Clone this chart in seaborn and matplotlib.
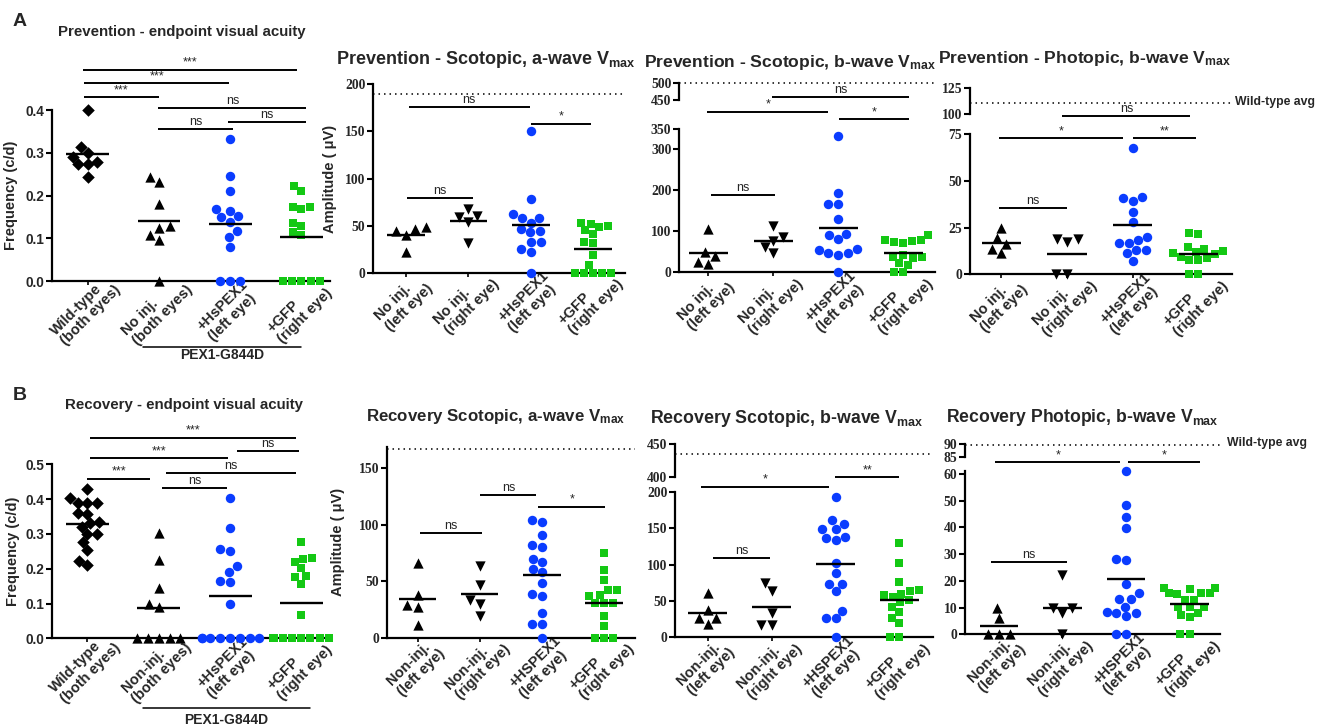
import numpy as np
import pandas as pd
import matplotlib
matplotlib.use("Agg")
import matplotlib.pyplot as plt
import seaborn as sns
from matplotlib.transforms import ScaledTranslation

W, H = 1325, 726

# ---------------- data ----------------
acuity_labels_A = ["Wild-type\n(both eyes)", "No inj.\n(both eyes)", "+HsPEX1\n(left eye)", "+GFP\n(right eye)"]
erg_labels_A = ["No inj.\n(left eye)", "No inj.\n(right eye)", "+HsPEX1\n(left eye)", "+GFP\n(right eye)"]
acuity_labels_B = ["Wild-type\n(both eyes)", "Non-inj.\n(both eyes)", "+HsPEX1\n(left eye)", "+GFP\n(right eye)"]
erg_labels_B = ["Non-inj.\n(left eye)", "Non-inj.\n(right eye)", "+HSPEX1\n(left eye)", "+GFP\n(right eye)"]

A_acuity_wt = [0.40, 0.291, 0.274, 0.299, 0.314, 0.274, 0.278, 0.243]
A_acuity_noinj = [0.232, 0.244, 0.180, 0.108, 0.125, 0.129, 0.096, 0.0]
A_acuity_hspex1 = [0.331, 0.246, 0.211, 0.168, 0.152, 0.149, 0.164, 0.139, 0.117, 0.102, 0.080, 0.0, 0.0, 0.0]
A_acuity_gfp = [0.211, 0.222, 0.172, 0.168, 0.174, 0.136, 0.129, 0.114, 0.108, 0.0, 0.0, 0.0, 0.0, 0.0]

A_awave_left = [48, 44, 40, 46, 22]
A_awave_right = [59, 68, 60, 54, 31]
A_awave_hspex1 = [150, 78, 62, 58, 58, 53, 44, 46, 43, 33, 33, 25, 22, 0]
A_awave_gfp = [53, 52, 50, 48, 45, 41, 33, 31, 19, 8, 0, 0, 0, 0, 0]
A_awave_wt_avg = 190

A_bwave_left = [105, 40, 50, 20, 26]
A_bwave_right = [112, 87, 77, 63, 48]
A_bwave_hspex1 = [333, 193, 166, 168, 129, 94, 91, 81, 56, 48, 55, 46, 42, 0]
A_bwave_gfp = [91, 80, 72, 78, 75, 77, 38, 35, 38, 42, 18, 22, 0, 0]
A_bwave_wt_avg = 498

A_photo_left = [24.6, 19.3, 16.3, 13.4, 11.3]
A_photo_right = [18.8, 17.5, 18.8, 0, 0]
A_photo_hspex1 = [67.9, 40.7, 39.3, 41.3, 33.6, 27.9, 20.2, 17.0, 16.6, 18.4, 13.0, 13.0, 11.3, 7.3]
A_photo_gfp = [22.3, 21.6, 13.4, 14.8, 11.3, 12.1, 12.7, 7.7, 9.5, 7.7, 0, 0, 11, 9]
A_photo_wt_avg = 111

B_acuity_wt = [0.428, 0.390, 0.390, 0.390, 0.404, 0.356, 0.361, 0.321, 0.335, 0.330, 0.301, 0.301, 0.278, 0.255, 0.223, 0.211]
B_acuity_noninj = [0.303, 0.225, 0.144, 0.100, 0.089, 0.0, 0.0, 0.0, 0.0, 0.0]
B_acuity_hspex1 = [0.404, 0.316, 0.252, 0.258, 0.208, 0.190, 0.163, 0.166, 0.100, 0.0, 0.0, 0.0, 0.0, 0.0, 0.0, 0.0, 0.0]
B_acuity_gfp = [0.278, 0.232, 0.218, 0.228, 0.201, 0.178, 0.175, 0.157, 0.067, 0.0, 0.0, 0.0, 0.0, 0.0, 0.0, 0.0, 0.0]

B_awave_left = [66, 29, 38, 27, 11]
B_awave_right = [63, 47, 33, 30, 19]
B_awave_hspex1 = [104, 102, 91, 80, 82, 67, 70, 61, 58, 48, 39, 37, 22, 12, 12, 0]
B_awave_gfp = [75, 60, 51, 42, 42, 38, 37, 31, 31, 31, 19, 10, 0, 0, 0]
B_awave_wt_avg = 167

B_bwave_left = [61, 37, 27, 26, 18]
B_bwave_right = [75, 64, 33, 17, 17]
B_bwave_hspex1 = [193, 161, 156, 149, 149, 138, 134, 137, 102, 88, 73, 73, 63, 36, 26, 26, 0]
B_bwave_gfp = [129, 102, 76, 63, 60, 65, 58, 51, 48, 42, 35, 26, 20, 0, 0, 55]
B_bwave_wt_avg = 436

B_photo_left = [10, 6.2, 0, 0, 0]
B_photo_right = [22.2, 9.7, 7.9, 9.7, 0]
B_photo_hspex1 = [61, 48.5, 44, 39.6, 27.8, 28.2, 18.7, 15.3, 13.1, 13.3, 10.4, 7.9, 8.5, 6.9, 7.9, 0, 0]
B_photo_gfp = [17.2, 17.2, 15.3, 15.6, 15.6, 13, 13, 10.3, 10.3, 10.3, 7.2, 6.4, 7.9, 0, 0, 17, 15]
B_photo_wt_avg = 89.9

# ---------------- style ----------------
sns.set_style("ticks")
plt.rcParams["font.family"] = ["Liberation Sans", "DejaVu Sans"]
plt.rcParams["mathtext.fontset"] = "custom"
plt.rcParams["mathtext.rm"] = "Liberation Sans:bold"
plt.rcParams["mathtext.bf"] = "Liberation Sans:bold"
plt.rcParams["mathtext.it"] = "Liberation Sans:bold:italic"

BLUE = "#0a3cff"
GREEN = "#14c814"
BLACK = "#000000"
ACU_MARKERS = ["D", "^", "o", "s"]
ERG_MARKERS = ["^", "v", "o", "s"]
COLORS = [BLACK, BLACK, BLUE, GREEN]
MARKER_SIZE = {"D": 6.4, "^": 7.4, "v": 7.4, "o": 6.8, "s": 6.2}

fig = plt.figure(figsize=(W / 100, H / 100), dpi=100)


def px_rect(l, t, r, b):
    return [l / W, 1 - b / H, (r - l) / W, (b - t) / H]


def fig_text(x, y, s, **kw):
    fig.text(x / W, 1 - y / H, s, **kw)


def draw_groups(ax, groups, labels, markers):
    df = pd.DataFrame({
        "group": np.repeat(labels, [len(g) for g in groups]),
        "value": np.concatenate([np.asarray(g, float) for g in groups]),
    })
    for lab, m, c in zip(labels, markers, COLORS):
        sns.swarmplot(data=df[df["group"] == lab], x="group", y="value", order=labels,
                      marker=m, color=c, size=MARKER_SIZE[m], linewidth=0, ax=ax, warn_thresh=1)
    means = df.groupby("group", sort=False)["value"].mean()
    for i, lab in enumerate(labels):
        ax.hlines(means[lab], i - 0.3, i + 0.3, color="black", lw=1.7, zorder=5)
    for coll in ax.collections:
        coll.set_clip_on(False)


def style_main(ax, labels, xlim, ylim, yticks, serif):
    ax.set_xlim(*xlim)
    ax.set_ylim(*ylim)
    ax.set_yticks(yticks)
    ax.set_xlabel("")
    ax.set_ylabel("")
    sns.despine(ax=ax)
    for sp in ("left", "bottom"):
        ax.spines[sp].set_linewidth(1.6)
        ax.spines[sp].set_color("black")
    ax.tick_params(axis="y", length=4, width=1.5, color="black", labelsize=9.8, pad=1.5)
    ax.tick_params(axis="x", length=3, width=1.2, color="black", pad=3)
    ax.set_xticks(range(len(labels)))
    ax.set_xticklabels(labels, rotation=45, ha="center", va="center", rotation_mode="anchor",
                       multialignment="left", fontsize=10.5, fontweight="bold", linespacing=1.1)
    off = ScaledTranslation(-2 / 100, -21 / 100, fig.dpi_scale_trans)
    for lbl in ax.get_xticklabels():
        lbl.set_transform(lbl.get_transform() + off)
    for lbl in ax.get_yticklabels():
        lbl.set_fontweight("bold")
        if serif:
            lbl.set_fontfamily(["Liberation Serif", "DejaVu Serif"])
    ax.patch.set_alpha(0)


def top_axis(l, t, r, b, xlim, ylim, yticks, wt):
    axt = fig.add_axes(px_rect(l, t, r, b))
    axt.set_xlim(*xlim)
    axt.set_ylim(*ylim)
    axt.set_yticks(yticks)
    axt.set_xticks([])
    for sp in ("top", "right", "bottom"):
        axt.spines[sp].set_visible(False)
    axt.spines["left"].set_linewidth(1.6)
    axt.spines["left"].set_color("black")
    axt.tick_params(axis="y", length=4, width=1.5, color="black", labelsize=9.8, pad=1.5)
    for lbl in axt.get_yticklabels():
        lbl.set_fontweight("bold")
        lbl.set_fontfamily(["Liberation Serif", "DejaVu Serif"])
    axt.axhline(wt, ls=(0, (1, 2.6)), color="black", lw=1.1, clip_on=False)
    axt.patch.set_alpha(0)
    return axt


def sig(ax, x1, x2, y, txt):
    ax.plot([x1, x2], [y, y], color="black", lw=1.4, clip_on=False, solid_capstyle="butt")
    t = ax.text((x1 + x2) / 2, y, txt, ha="center", va="bottom", fontsize=9, clip_on=False)
    t.set_transform(t.get_transform() + ScaledTranslation(0, 1 / 100, fig.dpi_scale_trans))


def pex_bracket(ax, x1, x2, yline, ytext):
    tr = ax.get_xaxis_transform()
    ax.plot([x1, x2], [yline, yline], color="black", lw=1.1, transform=tr, clip_on=False)
    ax.text((x1 + x2) / 2, ytext, "PEX1-G844D", transform=tr, ha="center", va="center",
            fontsize=10, fontweight="bold", clip_on=False)


def ylab(ax, text, xfrac):
    ax.set_ylabel(text, fontsize=10.5, fontweight="bold")
    ax.yaxis.set_label_coords(xfrac, 0.5)


TITLE_KW = dict(ha="center", va="center", fontweight="bold")

fig_text(20, 21, "A", fontsize=14, fontweight="bold", ha="center", va="center")
fig_text(20, 395, "B", fontsize=14, fontweight="bold", ha="center", va="center")

# ======================= Panel A =======================
# A1 acuity
ax = fig.add_axes(px_rect(52, 110, 330, 281))
draw_groups(ax, [A_acuity_wt, A_acuity_noinj, A_acuity_hspex1, A_acuity_gfp], acuity_labels_A, ACU_MARKERS)
style_main(ax, acuity_labels_A, (-0.5, 3.4), (0, 0.4), [0, 0.1, 0.2, 0.3, 0.4], serif=False)
ylab(ax, "Frequency (c/d)", -0.122)
sig(ax, -0.065, 2.94, 0.494, "***")
sig(ax, -0.056, 1.99, 0.462, "***")
sig(ax, -0.056, 1.0, 0.430, "***")
sig(ax, 0.994, 3.07, 0.405, "ns")
sig(ax, 1.97, 3.06, 0.373, "ns")
sig(ax, 0.994, 2.04, 0.355, "ns")
pex_bracket(ax, 0.78, 3.0, -0.386, -0.43)
fig_text(182, 32, "Prevention - endpoint visual acuity", fontsize=10.8, **TITLE_KW)

# A2 scotopic a-wave
ax = fig.add_axes(px_rect(373, 84.3, 625, 272.7))
draw_groups(ax, [A_awave_left, A_awave_right, A_awave_hspex1, A_awave_gfp], erg_labels_A, ERG_MARKERS)
style_main(ax, erg_labels_A, (-0.53, 3.51), (0, 200), [0, 50, 100, 150, 200], serif=True)
ax.axhline(A_awave_wt_avg, ls=(0, (1, 2.6)), color="black", lw=1.1)
ylab(ax, "Amplitude ( \u03bcV)", -0.143)
sig(ax, 0.04, 1.98, 175.6, "ns")
sig(ax, 2.01, 2.97, 158, "*")
sig(ax, 0.01, 1.08, 79.3, "ns")
fig_text(486, 60, "Prevention - Scotopic, a-wave V$_{\\mathrm{max}}$", fontsize=13, **TITLE_KW)

# A3 scotopic b-wave (broken axis)
ax = fig.add_axes(px_rect(679, 129, 935, 272.3))
draw_groups(ax, [A_bwave_left, A_bwave_right, A_bwave_hspex1, A_bwave_gfp], erg_labels_A, ERG_MARKERS)
style_main(ax, erg_labels_A, (-0.45, 3.49), (0, 350), [0, 100, 200, 300, 350], serif=True)
top_axis(679, 82.7, 935, 100, (-0.45, 3.49), (450, 500), [450, 500], A_bwave_wt_avg)
sig(ax, 0.98, 3.09, 427.4, "ns")
sig(ax, -0.015, 1.85, 392.2, "*")
sig(ax, 2.01, 3.09, 373.7, "*")
sig(ax, 0.05, 1.02, 188.8, "ns")
fig_text(790, 62, "Prevention - Scotopic, b-wave V$_{\\mathrm{max}}$", fontsize=12.6, **TITLE_KW)

# A4 photopic b-wave (broken axis)
ax = fig.add_axes(px_rect(970, 134.3, 1231.7, 274.3))
draw_groups(ax, [A_photo_left, A_photo_right, A_photo_hspex1, A_photo_gfp], erg_labels_A, ERG_MARKERS)
style_main(ax, erg_labels_A, (-0.48, 3.51), (0, 75), [0, 25, 50, 75], serif=True)
top_axis(970, 88.3, 1231.7, 114, (-0.48, 3.51), (100, 125), [100, 125], A_photo_wt_avg)
sig(ax, 0.93, 2.88, 84.8, "ns")
sig(ax, -0.035, 1.85, 72.9, "*")
sig(ax, 2.01, 2.97, 72.9, "**")
sig(ax, -0.035, 1.0, 35.7, "ns")
fig_text(1235, 102, "Wild-type avg", fontsize=8.8, fontweight="bold", ha="left", va="center")
fig_text(1085, 58, "Prevention - Photopic, b-wave V$_{\\mathrm{max}}$", fontsize=12.6, **TITLE_KW)

# ======================= Panel B =======================
# B1 acuity
ax = fig.add_axes(px_rect(51.7, 464.3, 330, 638.3))
draw_groups(ax, [B_acuity_wt, B_acuity_noninj, B_acuity_hspex1, B_acuity_gfp], acuity_labels_B, ACU_MARKERS)
style_main(ax, acuity_labels_B, (-0.5, 3.4), (0, 0.5), [0, 0.1, 0.2, 0.3, 0.4, 0.5], serif=False)
ylab(ax, "Frequency (c/d)", -0.114)
sig(ax, 0.03, 2.93, 0.5766, "***")
sig(ax, 2.10, 2.96, 0.538, "ns")
sig(ax, 0.04, 1.97, 0.517, "***")
sig(ax, 1.10, 2.92, 0.474, "ns")
sig(ax, 0.0, 0.88, 0.459, "***")
sig(ax, 1.05, 1.96, 0.433, "ns")
pex_bracket(ax, 0.78, 3.12, -0.402, -0.47)
fig_text(184, 405, "Recovery - endpoint visual acuity", fontsize=10.8, **TITLE_KW)

# B2 scotopic a-wave
ax = fig.add_axes(px_rect(386.7, 446.7, 635, 637.7))
draw_groups(ax, [B_awave_left, B_awave_right, B_awave_hspex1, B_awave_gfp], erg_labels_B, ERG_MARKERS)
style_main(ax, erg_labels_B, (-0.5, 3.5), (0, 169), [0, 50, 100, 150], serif=True)
ax.axhline(B_awave_wt_avg, ls=(0, (1, 2.6)), color="black", lw=1.1)
ylab(ax, "Amplitude ( \u03bcV)", -0.168)
sig(ax, 1.01, 1.91, 126.4, "ns")
sig(ax, 1.94, 3.02, 116, "*")
sig(ax, 0.03, 1.03, 93, "ns")
fig_text(496, 417, "Recovery Scotopic, a-wave V$_{\\mathrm{max}}$", fontsize=12.2, **TITLE_KW)

# B3 scotopic b-wave (broken axis)
ax = fig.add_axes(px_rect(675, 491.7, 932.7, 637.3))
draw_groups(ax, [B_bwave_left, B_bwave_right, B_bwave_hspex1, B_bwave_gfp], erg_labels_B, ERG_MARKERS)
style_main(ax, erg_labels_B, (-0.51, 3.52), (0, 200), [0, 50, 100, 150, 200], serif=True)
top_axis(675, 444.3, 932.7, 477.3, (-0.51, 3.52), (400, 450), [400, 450], B_bwave_wt_avg)
sig(ax, -0.10, 1.90, 206.9, "*")
sig(ax, 1.99, 3.0, 219.8, "**")
sig(ax, 0.08, 0.98, 108.5, "ns")
fig_text(787, 418, "Recovery Scotopic, b-wave V$_{\\mathrm{max}}$", fontsize=12.8, **TITLE_KW)

# B4 photopic b-wave (broken axis)
ax = fig.add_axes(px_rect(965, 471.3, 1220, 634.3))
draw_groups(ax, [B_photo_left, B_photo_right, B_photo_hspex1, B_photo_gfp], erg_labels_B, ERG_MARKERS)
style_main(ax, erg_labels_B, (-0.535, 3.48), (0, 61), [0, 10, 20, 30, 40, 50, 60], serif=True)
top_axis(965, 444.3, 1220, 457.3, (-0.535, 3.48), (85, 90), [85, 90], B_photo_wt_avg)
sig(ax, -0.06, 1.91, 64.4, "*")
sig(ax, 2.03, 3.17, 64.4, "*")
sig(ax, -0.12, 1.07, 26.9, "ns")
fig_text(1227, 443, "Wild-type avg", fontsize=8.8, fontweight="bold", ha="left", va="center")
fig_text(1082, 417, "Recovery Photopic, b-wave V$_{\\mathrm{max}}$", fontsize=12.7, **TITLE_KW)

fig.savefig("out.png", dpi=100)
